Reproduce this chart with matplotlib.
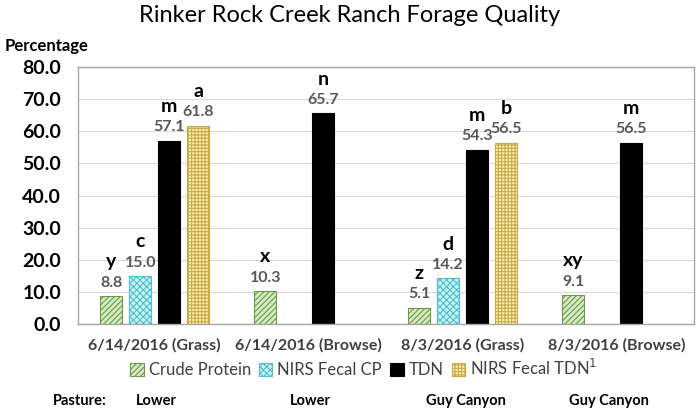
import numpy as np
import matplotlib
matplotlib.use("Agg")
import matplotlib.pyplot as plt

plt.rcParams['font.family'] = ['Lato', 'DejaVu Sans']
plt.rcParams['hatch.linewidth'] = 0.8

categories = ["6/14/2016 (Grass)", "6/14/2016 (Browse)", "8/3/2016 (Grass)", "8/3/2016 (Browse)"]
pastures = ["Lower", "Lower", "Guy Canyon", "Guy Canyon"]
series_names = ["Crude Protein", "NIRS Fecal CP", "TDN", "NIRS Fecal TDN$^{1}$"]
crude_protein = [8.8, 10.3, 5.1, 9.1]
nirs_fecal_cp = [15.0, np.nan, 14.2, np.nan]
tdn = [57.1, 65.7, 54.3, 56.5]
nirs_fecal_tdn = [61.8, np.nan, 56.5, np.nan]
letters_cp = ["y", "x", "z", "xy"]
letters_ncp = ["c", "", "d", ""]
letters_tdn = ["m", "n", "m", "m"]
letters_ntdn = ["a", "", "b", ""]
yticks = [0, 10, 20, 30, 40, 50, 60, 70, 80]

series = [crude_protein, nirs_fecal_cp, tdn, nirs_fecal_tdn]
letters = [letters_cp, letters_ncp, letters_tdn, letters_ntdn]
styles = [
    dict(facecolor="#d6ebc4", edgecolor="#6a9a45", hatch="//////"),
    dict(facecolor="#c8f7f7", edgecolor="#4fbcd0", hatch="xxxxx"),
    dict(facecolor="#000000", edgecolor="#000000", hatch=None),
    dict(facecolor="#fff2b3", edgecolor="#c9a94a", hatch="+++++"),
]

fig = plt.figure(figsize=(7, 4.12), dpi=100)
ax = fig.add_axes([0.111, 0.2136, 0.880, 0.6234])

x = np.arange(len(categories))
spacing = 0.188
width = 0.145
offsets = (np.arange(4) - 1.5) * spacing
handles = []
for i, (vals, st, lets) in enumerate(zip(series, styles, letters)):
    bars = ax.bar(x + offsets[i], vals, width, linewidth=0.8, label=series_names[i], **st)
    handles.append(bars)
    for xi, v, l in zip(x + offsets[i], vals, lets):
        if np.isnan(v):
            continue
        ax.annotate(f"{v:.1f}", (xi, v), xytext=(0, 9.5), textcoords="offset points",
                    ha="center", va="center", fontsize=11.5, color="#595959", fontweight="bold")
        ax.annotate(l, (xi, v), xytext=(0, 24.5), textcoords="offset points",
                    ha="center", va="center", fontsize=14, color="black", fontweight="bold")

ax.set_ylim(0, 80)
ax.set_xlim(-0.5, 3.5)
ax.set_yticks(yticks)
ax.set_yticklabels([f"{t:.1f}" for t in yticks], fontsize=14, fontweight="bold")
ax.set_xticks(x)
ax.set_xticklabels(categories, fontsize=11.5, fontweight="bold", color="#404040")
ax.tick_params(axis="both", length=0)
ax.tick_params(axis="x", pad=10)
ax.tick_params(axis="y", pad=12)
ax.yaxis.grid(True, color="#d9d9d9", linewidth=0.8)
ax.set_axisbelow(True)
for sp in ax.spines.values():
    sp.set_color("#a6a6a6")
    sp.set_linewidth(1.0)

fig.text(0.5, 0.962, "Rinker Rock Creek Ranch Forage Quality", ha="center", va="center", fontsize=17)
fig.text(0.007, 0.888, "Percentage", ha="left", va="center", fontsize=12, fontweight="bold")

leg = fig.legend(handles=handles, labels=series_names, loc="center", bbox_to_anchor=(0.52, 0.107),
                 ncol=4, frameon=False, fontsize=12, handlelength=0.8, handleheight=0.8,
                 handletextpad=0.3, columnspacing=0.5, labelcolor="#404040")

fig.text(0.114, 0.027, "Pasture:", ha="center", va="center", fontsize=10.5, fontweight="bold")
for cx, p in zip([0.223, 0.443, 0.666, 0.870], pastures):
    fig.text(cx, 0.027, p, ha="center", va="center", fontsize=10.5, fontweight="bold")

fig.savefig("out.png", dpi=100)
